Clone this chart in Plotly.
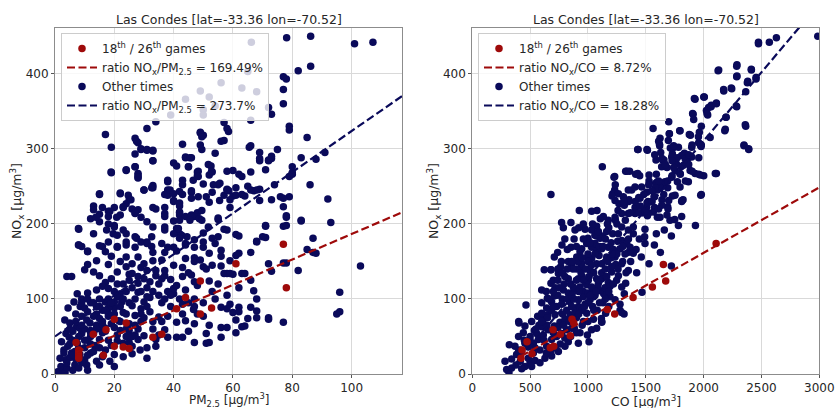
import plotly.graph_objects as go

# ---------------- data ----------------
# Left panel: "other times"
pm25_other = [
    78.1, 86.2, 101, 107.2, 66.2, 86.2, 82, 65, 77, 78,
    77, 77, 56, 49, 63, 68, 44, 52, 50, 54,
    39, 72, 73, 66, 57, 58.5, 50, 79, 79, 85,
    34, 31, 17, 27, 28, 19, 29, 31, 33, 49,
    50, 57, 49, 49.5, 65.5, 66, 69, 75, 91, 83,
    88, 69, 73, 72, 33, 44, 46, 45, 40, 41,
    27, 52.6, 53, 58, 19, 24, 28, 28, 48, 48,
    52, 60, 62, 63, 66, 80, 79, 30, 33, 33,
    38, 50, 55, 86, 74, 92, 76, 79, 73, 38,
    40, 43, 46, 57, 58.6, 60, 64, 67, 69, 69,
    61, 65, 22, 15, 25, 24, 28, 27, 23, 18,
    13, 15, 34, 37, 42, 42, 42, 40, 44, 46,
    48, 41, 42, 42.7, 44.5, 47, 48.7, 55, 57, 55,
    53, 50, 61, 62, 68, 71, 71, 77, 78, 83,
    93, 80, 87, 87, 85, 82, 77, 72, 73, 103,
    96, 96, 95, 72, 77, 66, 67, 68, 63, 64,
    61, 62, 60, 58, 65, 64, 61, 62, 60, 59,
    61, 56, 58, 56, 56, 52, 51, 52, 47, 47,
    51, 50, 45, 44, 47, 46.7, 47, 41, 41, 48,
    43, 37, 40, 40, 47, 46, 45, 43, 41, 44,
    47, 47, 49, 50, 51, 53, 56, 56, 59, 57,
    52, 43, 41, 37, 36, 33, 29, 28, 34, 36,
    37, 37, 31, 33, 31, 29, 27, 24, 21, 19,
    17, 18, 22, 24, 26, 25, 21, 19, 17, 15,
    13, 11, 10, 14, 16, 11, 9, 8, 8, 4,
    5.6, 7.5, 9, 11, 14, 16, 18, 20, 22, 24,
    26, 28, 30, 32, 35, 39, 38, 35, 32, 29,
    26, 23, 20, 16, 14, 11, 8.5, 6.4, 4.4, 3.3,
    5, 7.3, 11.8, 15, 18, 21.5, 25, 28, 30, 28,
    24, 21, 17, 15, 12, 9, 6, 3.7, 2.2, 4.3,
    6.7, 10, 13.5, 17, 20, 23, 18.5, 14, 10, 6.7,
    3.7, 1.7, 1, 2.2, 3.4, 0.5, 10.7, 15, 20, 16,
    12, 8.4, 5.6, 3, 4.8, 7.5, 11, 13, 15, 10.7,
    9, 13, 8.4, 14, 17, 21, 22.5, 19, 17, 23,
    26, 28.7, 31, 34, 34, 38, 43, 31, 26, 35,
    36, 33, 29, 31, 28, 32, 34, 36, 38, 37,
    33, 31, 29, 27, 23, 20, 19.6, 17.4, 15, 12,
    13, 22, 21, 24, 28, 30, 30, 26, 24, 40,
    44, 47, 50, 52, 40, 39, 40, 37, 40, 38,
    43, 46.6, 49.5, 52, 59, 55.5, 61, 53,
    6, 8, 10, 12, 14, 16, 18, 20, 22, 24,
    5, 7, 9, 11, 13, 15, 19, 21, 25, 27,
    10, 12, 15, 18, 20, 23, 25, 27, 29, 31,
    2, 4, 6, 8, 11, 3, 5, 7, 9, 12,
    16, 18, 22, 25, 27, 30, 33, 36, 38, 42,
    44, 45, 43, 48, 50, 53, 55, 58, 62, 54,
    66, 78, 59, 66, 68, 68, 72, 62, 58, 63,
    73, 69, 72, 71, 80, 80, 68, 66, 58, 63,
    59, 77, 77, 78, 78, 83, 71, 68, 70, 88,
    27.5, 29, 31, 33, 33, 27, 18.9, 24, 27, 28,
    28, 15, 22, 24.7, 25.6, 30, 32.6, 33, 20, 23,
    26, 27, 13, 16, 18.5, 13.8, 18, 20.8, 20, 18,
    7.9, 7.9, 11, 15, 18, 21, 24, 27.5, 31, 37,
    38, 42, 46, 43, 44, 45.5, 45, 49, 49.5, 54,
    56, 58, 51.7, 52.8, 48.3, 48.3, 53.4, 55.6, 58, 51,
    43, 38, 38.8, 40, 46, 48.3, 42, 42, 42, 46,
    45.5, 49.5, 55, 37, 37, 41.6, 42, 44, 51.7, 58,
    54, 56, 47, 50, 32.6, 32.6,
    4, 6, 8, 10, 12, 14, 16, 18, 20, 22,
    24, 26, 5, 7, 9, 11, 13, 15, 17, 19,
    21, 23, 25, 27, 29, 31, 33, 35, 37, 39,
]
nox_other_pm = [
    448, 450, 440, 442, 442, 410, 404, 403, 396, 393,
    379, 360, 388, 377, 381, 376, 366, 369, 352, 357,
    345, 355, 346, 338, 335, 323, 345, 330, 325, 315,
    336, 327, 319, 314, 308, 302, 299, 298, 297, 322,
    318, 311, 305, 299, 302, 304, 295, 299, 295, 288,
    286, 287, 287, 285, 284, 289, 288, 276, 281, 277,
    276, 277, 269, 270, 268, 271, 265, 261, 269, 264,
    265, 271, 266, 263, 269, 267, 263, 245, 248, 251,
    256, 253, 252, 252, 252, 233, 236, 236, 232, 238,
    240, 239, 242, 238, 244, 237, 237, 244, 231, 246,
    248, 250, 240, 239, 232, 227, 219, 214, 222, 217,
    224, 213, 220, 222, 224, 215, 212, 204, 210, 212,
    215, 194, 187, 185, 183, 210, 207, 206, 193, 183,
    181, 188, 186, 184, 176, 182, 197, 197, 209, 204,
    202, 266, 181, 162, 166, 138, 148, 147, 137, 144,
    109, 83, 80, 73, 69, 125, 111, 100, 134, 134,
    158, 161, 133, 134, 74, 64, 55, 89, 82, 93,
    72, 62, 62, 89, 49, 65, 41, 42, 42, 67,
    54, 77, 57, 71, 90, 86, 100, 69, 49, 118,
    93, 59, 107, 114, 123, 132, 135, 130, 118, 154,
    155, 150, 152, 143, 140, 145, 157, 144, 151, 134,
    124, 142, 164, 162, 152, 151, 142, 130, 131, 127,
    131, 138, 138, 162, 176, 176, 169, 172, 169, 157,
    163, 146, 150, 143, 147, 133, 136, 127, 122, 131,
    136, 146, 139, 151, 170, 164, 170, 193, 172, 130,
    130, 107, 100, 108, 112, 117, 114, 110, 107, 110,
    115, 109, 96, 102, 105, 90, 77, 76, 83, 87,
    91, 82, 88, 85, 80, 83, 90, 96, 88, 72,
    68, 63, 68, 74, 77, 71, 67, 60, 51, 46,
    50, 52, 57, 46, 50, 54, 57, 54, 43, 37,
    30, 35, 38, 32, 26, 23, 17, 17, 19, 12,
    19, 21, 3, 2, 2, 2, 12, 12, 10, 23,
    28, 26, 28, 32, 49, 41, 45, 54, 61, 72,
    77, 77, 61, 90, 96, 103, 96, 67, 61, 41,
    37, 32, 35, 37, 46, 49, 49, 21, 27, 52,
    70, 70, 70, 103, 121, 123, 138, 174, 169, 192,
    196, 203, 209, 183, 192, 198, 187, 192, 203, 207,
    187, 212, 185, 156, 156, 147, 127, 134, 187, 169,
    172, 169, 169, 161, 145, 126, 187, 214, 231, 245,
    258, 258, 218, 229, 222, 231, 238, 242,
    45, 50, 60, 40, 65, 55, 45, 62, 58, 80,
    22, 20, 15, 25, 30, 35, 38, 44, 42, 52,
    88, 95, 100, 100, 96, 100, 95, 78, 80, 90,
    10, 8, 5, 8, 5, 28, 40, 70, 65, 58,
    66, 88, 90, 58, 65, 75, 60, 95, 110, 100,
    112, 95, 80, 80, 95, 110, 120, 105, 115, 100,
    162, 148, 134, 89, 84, 75, 75, 83, 87, 63,
    290, 284, 284, 272, 276, 268, 245, 245, 246, 239,
    232, 234, 223, 211, 198, 205, 198, 177, 183, 161,
    310, 300, 299, 298, 284, 293, 269, 272, 276, 267,
    262, 240, 241, 238, 232, 245, 248, 222, 222, 223,
    220, 215, 219, 222, 217, 209, 210, 209, 196, 200,
    194, 172, 163, 171, 176, 170, 176, 181, 174, 239,
    241, 243, 244, 306, 288, 288, 276, 321, 316, 294,
    310, 327, 279, 270, 270, 263, 252, 254, 245, 236,
    252, 258, 245, 230, 234, 236, 228, 216, 205, 210,
    205, 205, 208, 210, 196, 194, 181, 174, 196, 192,
    174, 165, 179, 176, 183, 170,
    15, 25, 35, 45, 55, 60, 70, 80, 80, 70,
    60, 50, 60, 80, 95, 100, 95, 90, 85, 95,
    120, 120, 125, 100, 110, 115, 110, 120, 100, 105,
]

# Left panel: 18th / 26th games
pm25_game = [7.1, 8, 8, 8, 8, 12.9, 17.2, 20, 24, 20, 23, 25, 16.3, 33, 36, 41, 44, 49, 49, 52.8, 61, 77, 78]
nox_game_pm = [42, 32, 28, 24, 21, 53, 59, 73, 68, 37, 36, 34, 25, 49, 53, 87, 102, 124, 80, 88, 147, 173, 115]

# Right panel: "other times"
co_other = [
    2987, 2629, 2568, 2474, 2474, 2286, 2413, 2125, 2286, 2378,
    2453, 2243, 2174, 2364, 2110, 2286, 2064, 2001, 1926, 2024,
    2035, 1909, 2194, 2183, 2364, 1698, 1563, 1796, 1963, 1886,
    1704, 2056, 2349, 2390, 1972, 1978, 1623, 1430, 1514, 1618,
    1629, 1730, 1730, 1834, 1862, 1958, 1646, 1588, 1764, 1805,
    1883, 2110, 1972, 2001, 1124, 1326, 1360, 1412, 1447, 1591,
    1655, 1689, 1773, 1975, 1225, 1231, 1268, 1314, 1378, 1528,
    1585, 1576, 1640, 1730, 1810, 1519, 1464, 1355, 1576, 1689,
    1810, 1782, 1709, 1929, 1660, 1721, 1591, 1692, 1600, 1323,
    1514, 1493, 1490, 1444, 1392, 1416, 1461, 1574, 1626, 1721,
    1528, 1467, 1421, 1329, 1326, 1314, 1214, 1078, 925, 1032,
    1107, 1168, 1237, 1127, 1075, 1000, 975, 1214, 1257, 1277,
    1349, 1369, 1240, 1162, 1096, 1003, 931, 853, 772, 853,
    787, 888, 822, 738, 709, 764, 859, 934, 1018, 1119,
    1205, 1263, 1292, 1248, 1176, 1090, 1003, 917, 830, 744,
    680, 622, 680, 715, 793, 879, 960, 1049, 1136, 1191,
    1234, 1277, 1312, 1153, 1116, 1119, 1075, 1032, 995, 1009,
    917, 931, 882, 960, 1047, 989, 917, 845, 778, 709,
    649, 600, 680, 464, 401, 320, 283, 297, 317, 340,
    378, 415, 455, 499, 542, 340, 383, 427, 484, 528,
    571, 614, 657, 709, 758, 801, 845, 888, 931, 975,
    1018, 1061, 1104, 1147, 1191, 536, 576, 614, 651, 686,
    729, 773, 816, 859, 917, 960, 1003, 1047, 1084, 565,
    600, 643, 686, 738, 787, 830, 873, 931, 989, 1032,
    1075, 1119, 1162, 1205, 1032, 1075, 1119, 1032, 1075, 1119,
    1176, 946, 989, 903, 946, 715, 499, 455, 412, 369,
    528, 585, 643, 686, 729, 773, 816, 859, 830, 801,
    744, 686, 628, 585, 513, 427, 484, 403, 441, 400,
    455, 513, 556, 600, 643, 542, 1220, 1263, 1292, 1349,
    1392, 1407, 1450, 1508, 1571, 1600, 1620, 1666, 1724, 1753,
    1796, 1825, 1853, 1897, 1234, 1263, 1306, 1349, 1407, 1464,
    1508, 1565, 1623, 1479, 1407, 1349, 1292, 1234, 1176, 1133,
    1075, 1032, 1162, 1104, 1061, 1292, 1335, 1364, 1234, 1292,
    1349, 1392, 1493, 1522, 1638, 1698, 1753, 1796, 1868, 1926,
    1600, 1528, 1657, 1724, 1810, 1897, 1955, 1782, 1695, 1637,
    900, 950, 1000, 1050, 1100, 1150, 1200, 1250, 1300, 1350,
    850, 800, 750, 700, 650, 600, 550, 500, 450, 400,
    880, 920, 960, 1010, 1060, 1100, 1150, 1200, 1180, 1250,
    780, 820, 860, 900, 950, 1000, 1040, 1080, 1130, 1180,
    600, 640, 700, 740, 770, 800, 830, 870, 910, 960,
    1291, 1277, 1119, 775, 680,
    1703, 1793, 1876, 1905, 1914, 1920, 2006, 2043, 2066, 2110,
    2029, 2130, 2173, 2239, 2288, 2288, 2282, 2193, 2187, 2360,
    2349, 2389, 2412, 2381, 2453, 1980, 1957, 1980, 1900, 2101,
    1957, 1980, 1822, 1772, 1842, 1871, 1741, 1727, 1689, 1611,
    1655, 1582, 1525, 1554, 1482, 1439, 1409, 1352, 1236, 1208,
    1309, 1260, 1366, 1439, 1496, 1611, 1683, 1750, 1813, 1231,
    1337, 1430, 1433, 1510, 1577, 1611, 1620, 1640, 1683, 1712,
    1741, 1871, 1900, 1669, 1727, 1798, 1842, 1510, 1452, 1554,
    1000, 1020, 1060, 950, 900, 880, 920, 960, 1040, 1090,
    1130, 1170, 1210, 1260, 1300, 1320, 1180, 1220, 1150, 1100,
    1050, 1000, 950, 900, 850, 800, 760, 720, 680, 640,
    620, 700, 740, 790, 840, 880, 920, 970, 1020, 1070,
    660, 700, 740, 780, 820, 860, 900, 940, 980, 1030,
]
nox_other_co = [
    450, 448, 442, 442, 440, 410, 405, 404, 396, 388,
    393, 380, 377, 376, 360, 356, 356, 369, 366, 351,
    345, 346, 342, 324, 330, 336, 327, 324, 322, 318,
    320, 315, 304, 299, 306, 303, 314, 299, 298, 306,
    295, 300, 293, 294, 287, 288, 285, 285, 280, 276,
    271, 267, 265, 264, 276, 270, 270, 266, 264, 266,
    251, 248, 256, 238, 262, 245, 227, 225, 245, 257,
    254, 236, 232, 237, 230, 230, 215, 232, 222, 223,
    210, 198, 205, 198, 192, 184, 187, 220, 209, 205,
    211, 193, 183, 180, 187, 166, 156, 172, 162, 144,
    147, 109, 135, 135, 121, 107, 240, 218, 218, 217,
    207, 200, 205, 184, 184, 181, 193, 187, 177, 167,
    162, 150, 146, 156, 158, 156, 163, 169, 202, 202,
    195, 192, 166, 162, 156, 143, 146, 141, 138, 135,
    136, 131, 116, 125, 122, 121, 125, 127, 127, 134,
    139, 139, 121, 115, 120, 113, 110, 103, 107, 103,
    99, 85, 80, 81, 74, 69, 61, 59, 52, 43,
    41, 55, 61, 70, 73, 81, 90, 96, 100, 104,
    101, 112, 239, 92, 70, 39, 17, 6, 2, 8,
    12, 17, 10, 15, 18, 20, 26, 30, 36, 41,
    46, 52, 59, 64, 69, 73, 79, 83, 88, 93,
    99, 105, 111, 115, 117, 58, 65, 73, 79, 85,
    90, 93, 85, 90, 99, 103, 108, 113, 116, 77,
    81, 88, 96, 105, 112, 108, 116, 116, 119, 116,
    127, 127, 130, 143, 154, 147, 147, 169, 165, 167,
    169, 167, 174, 156, 147, 79, 45, 41, 32, 37,
    28, 32, 37, 46, 50, 54, 59, 61, 43, 37,
    30, 24, 21, 15, 10, 7, 21, 68, 55, 50,
    64, 70, 54, 63, 65, 35, 166, 187, 196, 192,
    196, 214, 234, 242, 236, 245, 249, 256, 262, 271,
    267, 278, 282, 289, 231, 240, 236, 245, 249, 249,
    222, 216, 209, 215, 222, 214, 214, 209, 205, 210,
    197, 192, 190, 181, 174, 178, 174, 169, 156, 147,
    138, 161, 174, 214, 225, 231, 238, 249, 256, 267,
    256, 265, 285, 289, 291, 302, 316, 302, 311, 276,
    140, 130, 150, 135, 125, 140, 155, 160, 170, 180,
    120, 130, 115, 90, 75, 70, 60, 50, 45, 30,
    100, 110, 125, 130, 160, 170, 180, 175, 195, 200,
    80, 100, 105, 75, 85, 95, 90, 85, 95, 90,
    95, 110, 125, 140, 150, 180, 150, 140, 150, 180,
    82, 93, 70, 172, 139,
    320, 324, 319, 347, 339, 367, 369, 355, 358, 361,
    347, 405, 379, 381, 412, 397, 357, 342, 326, 332,
    305, 300, 406, 390, 395, 330, 308, 305, 305, 267,
    266, 239, 232, 288, 286, 279, 275, 264, 257, 257,
    239, 248, 252, 244, 239, 235, 230, 230, 252, 237,
    230, 218, 215, 215, 217, 220, 212, 206, 231, 263,
    270, 267, 299, 299, 292, 310, 304, 287, 275, 301,
    304, 292, 270, 279, 284, 266, 257, 228, 224, 230,
    160, 175, 185, 155, 170, 180, 195, 200, 200, 190,
    170, 150, 160, 140, 150, 160, 110, 120, 100, 95,
    85, 70, 65, 55, 50, 48, 40, 35, 30, 28,
    45, 55, 62, 65, 70, 75, 80, 90, 105, 110,
    100, 110, 125, 135, 140, 150, 125, 135, 140, 145,
]

# Right panel: 18th / 26th games
co_game = [421, 430, 473, 516, 698, 674, 704, 761, 847, 862, 877, 1168, 1231, 1390, 1557, 1652, 1672, 2108]
nox_game_co = [21, 32, 43, 27, 59, 35, 37, 53, 51, 73, 68, 86, 80, 102, 116, 146, 124, 174]

# Fitted ratio lines (slope, intercept)
fit_pm_game = (1.6949, 17.0)
fit_pm_other = (2.737, 50.0)
fit_co_game = (0.0872, -13.0)
fit_co_other = (0.1828, -55.0)

PM_RANGE = [0, 117]
CO_RANGE = [0, 3000]
NOX_RANGE = [0, 461]

labels_pm = ["18<sup>th</sup> / 26<sup>th</sup> games",
             "ratio NO<sub>x</sub>/PM<sub>2.5</sub> = 169.49%",
             "Other times",
             "ratio NO<sub>x</sub>/PM<sub>2.5</sub> = 273.7%"]
labels_co = ["18<sup>th</sup> / 26<sup>th</sup> games",
             "ratio NO<sub>x</sub>/CO = 8.72%",
             "Other times",
             "ratio NO<sub>x</sub>/CO = 18.28%"]
title_text = "Las Condes [lat=-33.36 lon=-70.52]"
xtitle_pm = "PM<sub>2.5</sub> [μg/m<sup>3</sup>]"
xtitle_co = "CO [μg/m<sup>3</sup>]"
ytitle = "NO<sub>x</sub> [μg/m<sup>3</sup>]"

# ---------------- styling ----------------
RED = "#9e0a0a"
NAVY = "#0a0a5a"
FONT = "DejaVu Sans"
W, H = 835, 408
DASH = "8px,3.5px"
MSIZE = 7.5
L1, R1, L2, R2 = 55, 402, 472.3, 819.3
TOP, BOT = 28, 374


def line_pts(fit, x0, x1):
    s, b = fit
    return [x0, x1], [s * x0 + b, s * x1 + b]


fig = go.Figure()


def add_panel(xo, yo, xg, yg, fit_g, fit_o, xstart_o, xmax, labels, xa, ya, leg):
    fig.add_trace(go.Scatter(x=xo, y=yo, mode="markers", name=labels[2],
                             marker=dict(color=NAVY, size=MSIZE, line=dict(width=0)),
                             xaxis=xa, yaxis=ya, legend=leg, legendrank=3))
    lx, ly = line_pts(fit_o, xstart_o, xmax)
    fig.add_trace(go.Scatter(x=lx, y=ly, mode="lines", name=labels[3],
                             line=dict(color=NAVY, width=2.2, dash=DASH),
                             xaxis=xa, yaxis=ya, legend=leg, legendrank=4))
    fig.add_trace(go.Scatter(x=xg, y=yg, mode="markers", name=labels[0],
                             marker=dict(color=RED, size=MSIZE, line=dict(width=0)),
                             xaxis=xa, yaxis=ya, legend=leg, legendrank=1))
    lx, ly = line_pts(fit_g, min(xg), xmax)
    fig.add_trace(go.Scatter(x=lx, y=ly, mode="lines", name=labels[1],
                             line=dict(color=RED, width=2.2, dash=DASH),
                             xaxis=xa, yaxis=ya, legend=leg, legendrank=2))


add_panel(pm25_other, nox_other_pm, pm25_game, nox_game_pm, fit_pm_game, fit_pm_other,
          0, PM_RANGE[1], labels_pm, "x", "y", "legend")
add_panel(co_other, nox_other_co, co_game, nox_game_co, fit_co_game, fit_co_other,
          min(co_other), CO_RANGE[1], labels_co, "x2", "y2", "legend2")

axis_common = dict(showgrid=True, gridcolor="#d9d9d9", gridwidth=1,
                   showline=True, mirror=True, linecolor="#8c8c8c", linewidth=1,
                   ticks="outside", ticklen=3, tickcolor="#555555",
                   tickfont=dict(family=FONT, size=12, color="#262626"),
                   ticklabeloverflow="allow",
                   zeroline=False, automargin=False)
title_font = dict(family=FONT, size=12.5, color="#262626")

legend_common = dict(bgcolor="rgba(255,255,255,0.8)", bordercolor="#cccccc", borderwidth=1,
                     font=dict(family=FONT, size=12, color="#262626"),
                     xanchor="left", yanchor="top", traceorder="normal",
                     itemwidth=30)


def ann(text, xpx, ypx, angle=0, size=12.5):
    return dict(text=text, x=xpx / W, y=1 - ypx / H, xref="paper", yref="paper",
                showarrow=False, xanchor="center", yanchor="middle", textangle=angle,
                borderpad=0, font=dict(family=FONT, size=size, color="#262626"))


fig.update_layout(
    width=W, height=H, margin=dict(l=0, r=0, t=0, b=0),
    paper_bgcolor="white", plot_bgcolor="white",
    font=dict(family=FONT, size=12, color="#262626"),
    hovermode=False,
    xaxis=dict(domain=[L1 / W, R1 / W], range=PM_RANGE, anchor="y",
               tickvals=[0, 20, 40, 60, 80, 100], **axis_common),
    yaxis=dict(domain=[1 - BOT / H, 1 - TOP / H], range=NOX_RANGE, anchor="x",
               tickvals=[0, 100, 200, 300, 400], **axis_common),
    xaxis2=dict(domain=[L2 / W, R2 / W], range=CO_RANGE, anchor="y2",
                tickvals=[0, 500, 1000, 1500, 2000, 2500, 3000], **axis_common),
    yaxis2=dict(domain=[1 - BOT / H, 1 - TOP / H], range=NOX_RANGE, anchor="x2",
                tickvals=[0, 100, 200, 300, 400], **axis_common),
    legend=dict(x=61 / W, y=1 - 33 / H, **legend_common),
    legend2=dict(x=478 / W, y=1 - 33 / H, **legend_common),
    annotations=[
        ann(title_text, (L1 + R1) / 2, 19),
        ann(title_text, (L2 + R2) / 2, 19),
        ann(xtitle_pm, (L1 + R1) / 2, 400, size=12),
        ann(xtitle_co, (L2 + R2) / 2, 400.5),
        ann(ytitle, 17, (TOP + BOT) / 2, -90),
        ann(ytitle, 434, (TOP + BOT) / 2, -90),
    ],
)

fig.write_html("out.html")
